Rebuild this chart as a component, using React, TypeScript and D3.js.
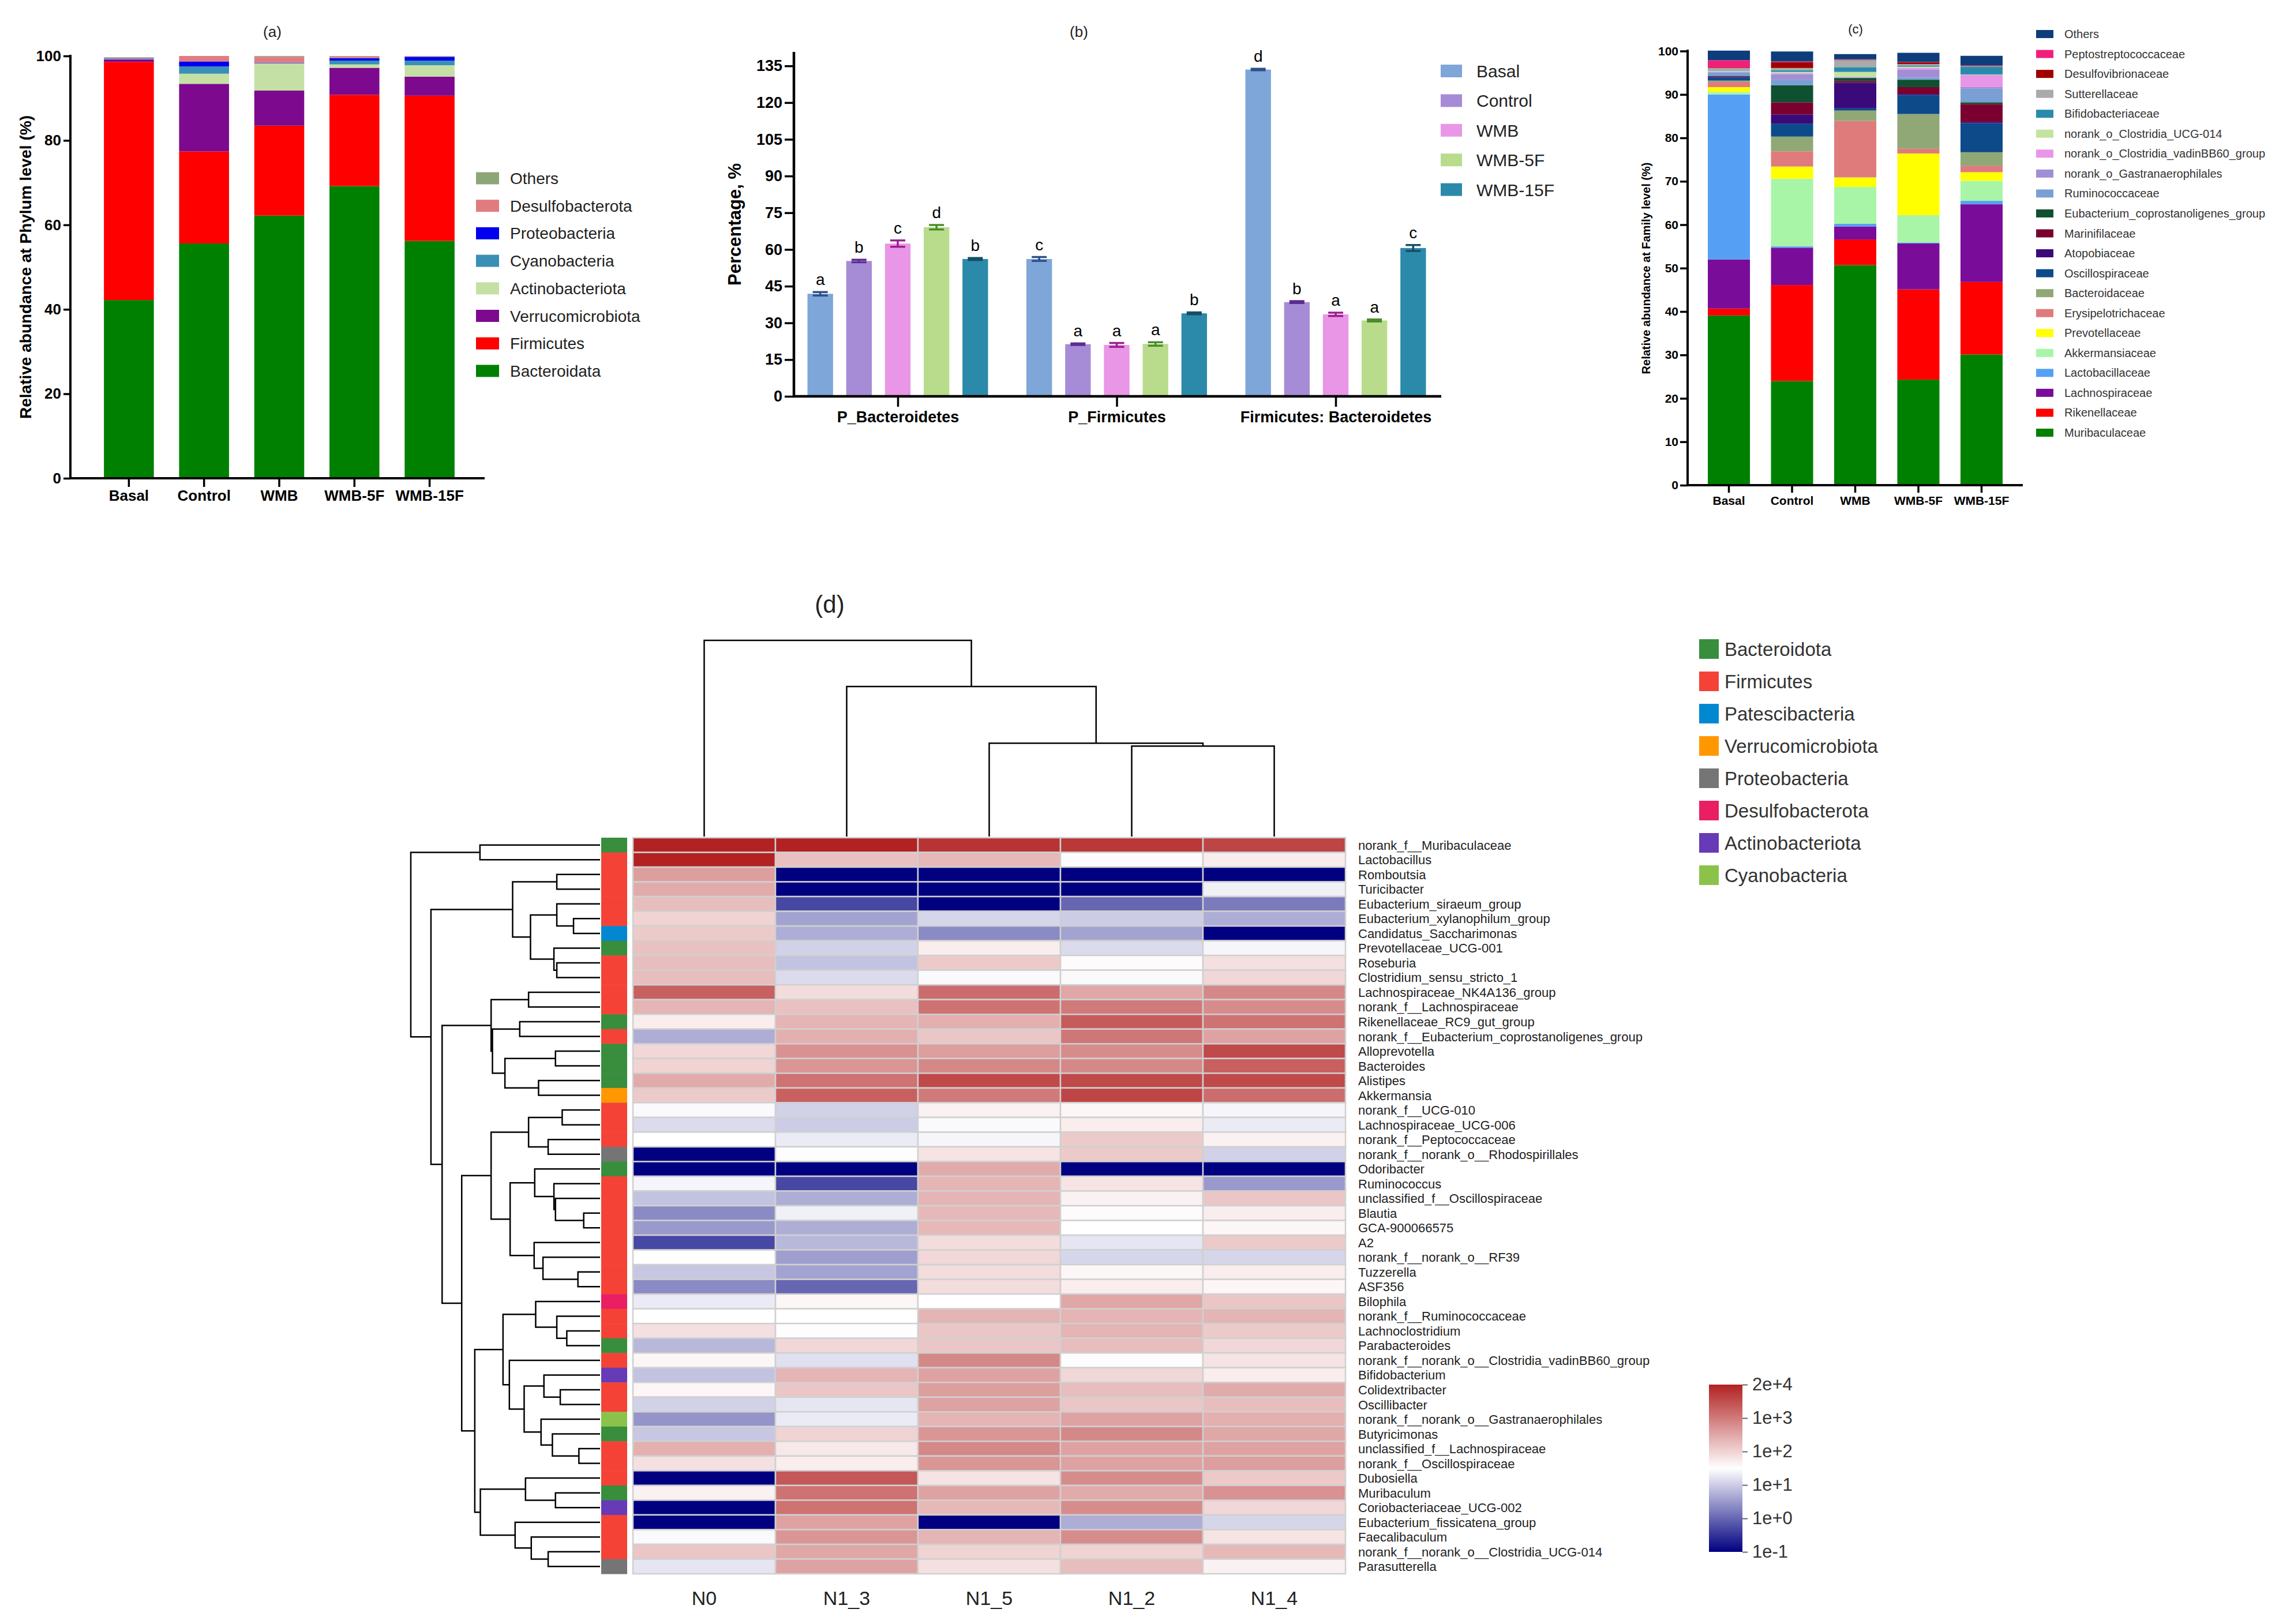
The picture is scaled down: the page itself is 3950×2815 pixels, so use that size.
import React, { useEffect, useRef } from 'react';
import * as d3 from 'd3';

const W = 3950;
const H = 2815;
const FONT = '"Liberation Sans", Arial, sans-serif';

// ---------- (a) relative abundance at phylum level ----------
const groups = ['Basal', 'Control', 'WMB', 'WMB-5F', 'WMB-15F'];
const bacteroidata = [42.2, 55.6, 62.2, 69.2, 56.2];
const firmicutes = [56.4, 21.8, 21.3, 21.6, 34.4];
const verrucomicrobiota = [0.6, 16.0, 8.3, 6.4, 4.5];
const actinobacteriota = [0.1, 2.4, 6.4, 0.8, 2.7];
const cyanobacteria = [0.1, 1.7, 0.1, 0.9, 1.1];
const proteobacteria = [0.1, 1.2, 0.1, 0.6, 0.9];
const desulfobacterota = [0.1, 1.3, 1.4, 0.4, 0.1];
const othersPhylum = [0.1, 0.0, 0.2, 0.1, 0.1];

const phyla = [
  { name: 'Bacteroidata', color: '#008000', values: bacteroidata },
  { name: 'Firmicutes', color: '#ff0000', values: firmicutes },
  { name: 'Verrucomicrobiota', color: '#7d0a8e', values: verrucomicrobiota },
  { name: 'Actinobacteriota', color: '#c5e0a5', values: actinobacteriota },
  { name: 'Cyanobacteria', color: '#3a8fb7', values: cyanobacteria },
  { name: 'Proteobacteria', color: '#0000ee', values: proteobacteria },
  { name: 'Desulfobacterota', color: '#e07c80', values: desulfobacterota },
  { name: 'Others', color: '#8da677', values: othersPhylum },
];

// ---------- (b) Bacteroidetes / Firmicutes ----------
const ratioGroups = ['P_Bacteroidetes', 'P_Firmicutes', 'Firmicutes: Bacteroidetes'];
const basalPct = [41.9, 56.1, 133.5];
const controlPct = [55.3, 21.3, 38.5];
const wmbPct = [62.4, 21.0, 33.5];
const wmb5fPct = [69.1, 21.4, 31.0];
const wmb15fPct = [56.1, 33.9, 60.6];
const basalErr = [0.7, 0.8, 0.3];
const controlErr = [0.5, 0.3, 0.4];
const wmbErr = [1.3, 0.8, 0.7];
const wmb5fErr = [0.9, 0.7, 0.4];
const wmb15fErr = [0.4, 0.4, 1.2];
const basalSig = ['a', 'c', 'd'];
const controlSig = ['b', 'a', 'b'];
const wmbSig = ['c', 'a', 'a'];
const wmb5fSig = ['d', 'a', 'a'];
const wmb15fSig = ['b', 'b', 'c'];

const treatments = [
  { name: 'Basal', fill: '#7ea6d8', dark: '#2d4f8a', values: basalPct, err: basalErr, sig: basalSig },
  { name: 'Control', fill: '#a68cd6', dark: '#5b2c91', values: controlPct, err: controlErr, sig: controlSig },
  { name: 'WMB', fill: '#e996e6', dark: '#9c1f8f', values: wmbPct, err: wmbErr, sig: wmbSig },
  { name: 'WMB-5F', fill: '#b9dc8c', dark: '#4b8d2a', values: wmb5fPct, err: wmb5fErr, sig: wmb5fSig },
  { name: 'WMB-15F', fill: '#2b8aaa', dark: '#174d66', values: wmb15fPct, err: wmb15fErr, sig: wmb15fSig },
];

// ---------- (c) relative abundance at family level (bottom -> top) ----------
const families = [
  { name: 'Muribaculaceae', color: '#008000', values: [39.1, 24.0, 50.7, 24.3, 30.1] },
  { name: 'Rikenellaceae', color: '#ff0000', values: [1.6, 22.1, 5.9, 20.8, 16.7] },
  { name: 'Lachnospiraceae', color: '#7a0c9a', values: [11.3, 8.6, 3.0, 10.6, 17.9] },
  { name: 'Lactobacillaceae', color: '#55a0f5', values: [38.0, 0.3, 0.6, 0.2, 0.8] },
  { name: 'Akkermansiaceae', color: '#a8f5a8', values: [0.6, 15.6, 8.5, 6.3, 4.6] },
  { name: 'Prevotellaceae', color: '#ffff00', values: [1.1, 2.8, 2.2, 14.2, 2.0] },
  { name: 'Erysipelotrichaceae', color: '#e07b7b', values: [1.2, 3.5, 13.0, 1.1, 1.5] },
  { name: 'Bacteroidaceae', color: '#8fa876', values: [0.3, 3.4, 2.4, 8.0, 3.1] },
  { name: 'Oscillospiraceae', color: '#0d4a8a', values: [0.7, 3.0, 0.5, 4.4, 6.7] },
  { name: 'Atopobiaceae', color: '#3a0a7a', values: [0.2, 2.1, 5.9, 0.2, 0.3] },
  { name: 'Marinifilaceae', color: '#7a0030', values: [0.1, 2.8, 0.4, 1.6, 4.1] },
  { name: 'Eubacterium_coprostanoligenes_group', color: '#0f5030', values: [0.1, 3.9, 0.7, 1.7, 0.4] },
  { name: 'Ruminococcaceae', color: '#7a9fd4', values: [0.8, 1.3, 0.1, 0.5, 3.2] },
  { name: 'norank_o_Gastranaerophilales', color: '#a08fd4', values: [0.1, 1.3, 0.1, 1.8, 0.3] },
  { name: 'norank_o_Clostridia_vadinBB60_group', color: '#e896e8', values: [0.1, 0.2, 0.1, 0.4, 2.8] },
  { name: 'norank_o_Clostridia_UCG-014', color: '#c4e3a0', values: [0.1, 0.3, 1.1, 0.3, 0.1] },
  { name: 'Bifidobacteriaceae', color: '#2a8aac', values: [0.1, 0.4, 1.1, 0.3, 1.8] },
  { name: 'Sutterellaceae', color: '#aaaaaa', values: [0.6, 0.5, 1.6, 0.3, 0.1] },
  { name: 'Desulfovibrionaceae', color: '#a00000', values: [0.1, 1.3, 0.1, 0.4, 0.1] },
  { name: 'Peptostreptococcaceae', color: '#f0207a', values: [1.7, 0.2, 0.1, 0.1, 0.1] },
  { name: 'Others', color: '#0d3d7a', values: [2.2, 2.3, 1.2, 2.1, 2.2] },
];

// ---------- (d) heatmap ----------
const samples = ['N0', 'N1_3', 'N1_5', 'N1_2', 'N1_4'];
const genera = [
  'norank_f__Muribaculaceae', 'Lactobacillus', 'Romboutsia', 'Turicibacter', 'Eubacterium_siraeum_group',
  'Eubacterium_xylanophilum_group', 'Candidatus_Saccharimonas', 'Prevotellaceae_UCG-001', 'Roseburia', 'Clostridium_sensu_stricto_1',
  'Lachnospiraceae_NK4A136_group', 'norank_f__Lachnospiraceae', 'Rikenellaceae_RC9_gut_group', 'norank_f__Eubacterium_coprostanoligenes_group', 'Alloprevotella',
  'Bacteroides', 'Alistipes', 'Akkermansia', 'norank_f__UCG-010', 'Lachnospiraceae_UCG-006',
  'norank_f__Peptococcaceae', 'norank_f__norank_o__Rhodospirillales', 'Odoribacter', 'Ruminococcus', 'unclassified_f__Oscillospiraceae',
  'Blautia', 'GCA-900066575', 'A2', 'norank_f__norank_o__RF39', 'Tuzzerella',
  'ASF356', 'Bilophila', 'norank_f__Ruminococcaceae', 'Lachnoclostridium', 'Parabacteroides',
  'norank_f__norank_o__Clostridia_vadinBB60_group', 'Bifidobacterium', 'Colidextribacter', 'Oscillibacter', 'norank_f__norank_o__Gastranaerophilales',
  'Butyricimonas', 'unclassified_f__Lachnospiraceae', 'norank_f__Oscillospiraceae', 'Dubosiella', 'Muribaculum',
  'Coriobacteriaceae_UCG-002', 'Eubacterium_fissicatena_group', 'Faecalibaculum', 'norank_f__norank_o__Clostridia_UCG-014', 'Parasutterella',
];

// phylum of every genus row
const Bd = 'Bacteroidota', Fi = 'Firmicutes', Pa = 'Patescibacteria', Ve = 'Verrucomicrobiota';
const Pr = 'Proteobacteria', De = 'Desulfobacterota', Ac = 'Actinobacteriota', Cy = 'Cyanobacteria';
const genusPhylum = [
  Bd, Fi, Fi, Fi, Fi, Fi, Pa, Bd, Fi, Fi,
  Fi, Fi, Bd, Fi, Bd, Bd, Bd, Ve, Fi, Fi,
  Fi, Pr, Bd, Fi, Fi, Fi, Fi, Fi, Fi, Fi,
  Fi, De, Fi, Fi, Bd, Fi, Ac, Fi, Fi, Cy,
  Bd, Fi, Fi, Fi, Bd, Ac, Fi, Fi, Fi, Pr,
];

const phylumLegend = [
  { name: Bd, color: '#388e3c' },
  { name: Fi, color: '#f44336' },
  { name: Pa, color: '#0288d1' },
  { name: Ve, color: '#ff9800' },
  { name: Pr, color: '#757575' },
  { name: De, color: '#e91e63' },
  { name: Ac, color: '#673ab7' },
  { name: Cy, color: '#8bc34a' },
];

// log10 abundance per sample, one value per genus row
const n0 = [4.3, 4.3, 2.6, 2.45, 2.25, 2.0, 2.1, 2.2, 2.25, 2.25, 3.39, 2.35, 1.7, 0.7, 1.95, 2.0, 2.45, 2.1, 1.45, 1.15, 1.5, -1, -1, 1.4, 0.9, 0.35, 0.5, -0.3, 1.5, 0.95, 0.35, 1.3, 1.5, 1.85, 0.8, 1.6, 0.9, 1.6, 1.05, 0.45, 0.95, 2.4, 1.85, -1, 1.65, -1, -1, 1.45, 2.15, 1.25];
const n1_3 = [4.3, 2.2, -1, -1, -0.3, 0.6, 0.7, 1.05, 0.9, 1.15, 1.9, 2.2, 2.35, 2.4, 2.75, 2.7, 3.13, 3.39, 1.05, 1.0, 1.3, 1.52, -1, -0.3, 0.7, 1.35, 0.7, 0.8, 0.55, 0.6, 0.0, 1.6, 1.5, 1.52, 1.95, 1.2, 2.35, 2.15, 1.25, 1.3, 2.0, 1.75, 1.7, 3.52, 3.13, 3.13, 2.55, 2.7, 2.5, 2.55];
const n1_5 = [4.04, 2.3, -1, -1, -1, 1.1, 0.35, 1.7, 2.1, 1.45, 3.2, 3.13, 2.4, 2.15, 2.6, 2.85, 3.72, 3.0, 1.65, 1.45, 1.4, 1.8, 2.45, 2.35, 2.35, 2.3, 2.3, 1.9, 1.95, 1.9, 1.9, 1.5, 2.35, 2.15, 2.15, 2.85, 2.55, 2.6, 2.55, 2.35, 2.7, 2.85, 2.7, 1.8, 2.55, 2.3, -1, 2.35, 2.0, 1.85];
const n1_2 = [3.98, 1.55, -1, -1, 0.0, 1.0, 0.6, 1.15, 1.55, 1.45, 2.5, 3.0, 3.46, 3.07, 2.8, 2.85, 3.72, 3.78, 1.6, 1.7, 2.1, 2.1, -1, 1.8, 1.65, 1.55, 1.5, 1.25, 1.1, 1.6, 1.7, 2.5, 2.35, 2.35, 2.25, 1.47, 1.95, 2.25, 2.15, 2.55, 2.85, 2.55, 2.55, 2.8, 2.45, 2.8, 0.7, 2.8, 2.0, 2.25];
const n1_4 = [3.78, 1.7, -1, 1.35, 0.2, 0.7, -1, 1.4, 1.85, 1.95, 2.85, 2.8, 3.13, 2.55, 3.72, 3.39, 3.72, 3.2, 1.4, 1.3, 1.65, 1.05, -1, 0.5, 2.15, 1.7, 1.6, 2.1, 1.1, 1.7, 1.6, 2.15, 2.35, 2.1, 1.95, 1.8, 1.7, 2.45, 2.25, 2.4, 2.5, 2.55, 2.6, 2.1, 2.75, 1.95, 1.1, 1.8, 2.3, 1.65];
const sampleValues = [n0, n1_3, n1_5, n1_2, n1_4];

const colorbarTicks = [-1, 0, 1, 2, 3, Math.log10(2e4)];
const colorbarLabels = ['1e-1', '1e+0', '1e+1', '1e+2', '1e+3', '2e+4'];

// dendrograms: [merge height, left, right], leaves are row / column indices
type Tree = number | [number, Tree, Tree];
const rowTree: Tree = [98.5,
  [62.5, 0, 1],
  [88,
    [45.5,
      [22.5, 2, 3],
      [36.2, [22.5, 4, [13.8, 5, 6]], [24, 7, [22.5, 8, 9]]]],
    [82.2,
      [56.7,
        [37.2, 10, 11],
        [56, [41.8, 12, 13], [49.5, [23.2, 14, 15], [32, 16, 17]]]],
      [72,
        [56.7,
          [37.2, [19.7, 18, 19], [27, 20, 21]],
          [46.8,
            [34, 22, [24, 23, [23.2, 24, [8.5, 25, 26]]]],
            [34.3, 27, [29.7, 28, [11.5, 29, 30]]]]],
        [65.2,
          [50.5,
            [33.5, 31, [22.5, 32, [17.3, 33, 34]]],
            [47.2, 35, [39.5, [29.2, 36, [20.7, 37, 38]], [30.7, 39, [24.8, 40, [11, 41, 42]]]]]],
          [62.3,
            [38.8, 43, [23.2, 44, 45]],
            [44.2, 46, [35.8, 47, [27, 48, 49]]]]]]]]];
const colTree: Tree = [10.2, 0, [7.8, 1, [4.85, 2, [4.7, 3, 4]]]];

function txt(g: any, x: number, y: number, s: string, size: number, opts: any = {}) {
  return g.append('text')
    .attr('x', x)
    .attr('y', y)
    .attr('font-family', FONT)
    .attr('font-size', size)
    .attr('font-weight', opts.bold ? 'bold' : 'normal')
    .attr('text-anchor', opts.anchor || 'start')
    .attr('fill', opts.fill || '#000')
    .text(s);
}

function styleAxis(a: any, size: number, width: number) {
  a.select('.domain').remove();
  a.selectAll('.tick line').attr('stroke', '#000').attr('stroke-width', width);
  a.selectAll('.tick text')
    .attr('fill', '#000')
    .attr('font-size', size)
    .attr('font-family', FONT)
    .attr('font-weight', 'bold');
}

function drawPhylum(svg: any) {
  const g = svg.append('g');
  const x = d3.scaleBand().domain(groups).range([128, 840]).paddingInner(0.336).paddingOuter(0.4);
  const y = d3.scaleLinear().domain([0, 100]).range([829, 97]);

  const rows = groups.map((grp, i) => {
    const o: any = { group: grp };
    phyla.forEach((p) => (o[p.name] = p.values[i]));
    return o;
  });
  const stacked = d3.stack<any>().keys(phyla.map((p) => p.name))(rows);

  g.selectAll('.layer')
    .data(stacked)
    .join('g')
    .attr('fill', (_d: any, k: number) => phyla[k].color)
    .selectAll('rect')
    .data((d: any) => d)
    .join('rect')
    .attr('x', (d: any) => x(d.data.group))
    .attr('y', (d: any) => y(d[1]))
    .attr('width', x.bandwidth())
    .attr('height', (d: any) => y(d[0]) - y(d[1]));

  const ya = g.append('g').attr('transform', 'translate(122,0)')
    .call(d3.axisLeft(y).tickValues([0, 20, 40, 60, 80, 100]).tickSize(12).tickPadding(4));
  styleAxis(ya, 26, 3.5);
  const xa = g.append('g').attr('transform', 'translate(0,829)')
    .call(d3.axisBottom(x).tickSize(15).tickPadding(6));
  styleAxis(xa, 26, 3.5);
  g.append('path').attr('d', 'M122,95V829H840').attr('fill', 'none').attr('stroke', '#000').attr('stroke-width', 4);

  txt(g, 0, 0, 'Relative abundance at Phylum level (%)', 28, { bold: true, anchor: 'middle' })
    .attr('transform', 'translate(54,463) rotate(-90)');
  txt(g, 472, 64, '(a)', 26, { anchor: 'middle', fill: '#222' });

  const leg = [...phyla].reverse();
  leg.forEach((p, i) => {
    const cy = 309 + i * 47.7;
    g.append('rect').attr('x', 825).attr('y', cy - 10.5).attr('width', 40).attr('height', 21).attr('fill', p.color);
    txt(g, 884, cy + 10, p.name, 28, { fill: '#222' });
  });
}

function drawRatio(svg: any) {
  const g = svg.append('g');
  const x0 = d3.scalePoint().domain(ratioGroups).range([1556, 2315]);
  const x1 = d3.scaleBand().domain(treatments.map((t) => t.name)).range([-156.5, 156.5]).paddingInner(0.34);
  const y = d3.scaleLinear().domain([0, 140]).range([687, 93]);

  treatments.forEach((t) => {
    ratioGroups.forEach((grp, i) => {
      const bx = (x0(grp) as number) + (x1(t.name) as number);
      const cx = bx + x1.bandwidth() / 2;
      const v = t.values[i];
      const e = t.err[i];
      g.append('rect').attr('x', bx).attr('y', y(v)).attr('width', x1.bandwidth()).attr('height', y(0) - y(v)).attr('fill', t.fill);
      const eb = d3.path();
      eb.moveTo(cx, y(v - e)); eb.lineTo(cx, y(v + e));
      eb.moveTo(cx - 13, y(v + e)); eb.lineTo(cx + 13, y(v + e));
      eb.moveTo(cx - 13, y(v - e)); eb.lineTo(cx + 13, y(v - e));
      g.append('path').attr('d', eb.toString()).attr('stroke', t.dark).attr('stroke-width', 3.5).attr('fill', 'none');
      txt(g, cx, y(v + e) - 12, t.sig[i], 28, { anchor: 'middle' });
    });
  });

  const ya = g.append('g').attr('transform', 'translate(1376,0)')
    .call(d3.axisLeft(y).tickValues(d3.range(0, 136, 15)).tickSize(16).tickPadding(4));
  styleAxis(ya, 27, 3.5);
  const xa = g.append('g').attr('transform', 'translate(0,687)')
    .call(d3.axisBottom(x0).tickSize(18).tickPadding(8));
  styleAxis(xa, 27, 3.5);
  g.append('path').attr('d', 'M1376,90V687H2498').attr('fill', 'none').attr('stroke', '#000').attr('stroke-width', 4.5);

  txt(g, 0, 0, 'Percentage, %', 31, { bold: true, anchor: 'middle' })
    .attr('transform', 'translate(1284,389) rotate(-90)');
  txt(g, 1870, 64, '(b)', 26, { anchor: 'middle', fill: '#222' });

  treatments.forEach((t, i) => {
    const cy = 123 + i * 51.4;
    g.append('rect').attr('x', 2497).attr('y', cy - 11).attr('width', 37).attr('height', 22).attr('fill', t.fill);
    txt(g, 2559, cy + 11, t.name, 30, { fill: '#222' });
  });
}

function drawFamily(svg: any) {
  const g = svg.append('g');
  const x = d3.scaleBand().domain(groups).range([2925, 3506]).paddingInner(0.333).paddingOuter(0.32);
  const y = d3.scaleLinear().domain([0, 100]).range([841, 88.5]);

  const rows = groups.map((grp, i) => {
    const o: any = { group: grp };
    families.forEach((f) => (o[f.name] = f.values[i]));
    return o;
  });
  const stacked = d3.stack<any>().keys(families.map((f) => f.name))(rows);

  g.selectAll('.layer')
    .data(stacked)
    .join('g')
    .attr('fill', (_d: any, k: number) => families[k].color)
    .selectAll('rect')
    .data((d: any) => d)
    .join('rect')
    .attr('x', (d: any) => x(d.data.group))
    .attr('y', (d: any) => y(d[1]))
    .attr('width', x.bandwidth())
    .attr('height', (d: any) => y(d[0]) - y(d[1]));

  const ya = g.append('g').attr('transform', 'translate(2925,0)')
    .call(d3.axisLeft(y).tickValues(d3.range(0, 101, 10)).tickSize(13).tickPadding(3));
  styleAxis(ya, 21, 3.5);
  const xa = g.append('g').attr('transform', 'translate(0,841)')
    .call(d3.axisBottom(x).tickSize(13).tickPadding(6));
  styleAxis(xa, 21, 3.5);
  g.append('path').attr('d', 'M2925,86V841H3506').attr('fill', 'none').attr('stroke', '#000').attr('stroke-width', 4);

  txt(g, 0, 0, 'Relative abundance at Family level (%)', 20, { bold: true, anchor: 'middle' })
    .attr('transform', 'translate(2860,465) rotate(-90)');
  txt(g, 3216, 58, '(c)', 22, { anchor: 'middle', fill: '#222' });

  const leg = [...families].reverse();
  leg.forEach((f, i) => {
    const cy = 59 + i * 34.55;
    g.append('rect').attr('x', 3529).attr('y', cy - 7).attr('width', 30).attr('height', 14).attr('fill', f.color);
    txt(g, 3578, cy + 7, f.name, 20, { fill: '#333' });
  });
}

function dendrogram(g: any, tree: Tree, leafPos: (i: number) => number, hPos: (h: number) => number, horizontal: boolean) {
  const root: any = d3.hierarchy<any>(tree, (d: any) => (Array.isArray(d) ? d.slice(1) : null));
  root.eachAfter((n: any) => {
    if (!n.children) {
      n.pos = leafPos(n.data);
      n.hv = 0;
    } else {
      n.pos = (n.children[0].pos + n.children[n.children.length - 1].pos) / 2;
      n.hv = n.data[0];
    }
  });
  const p = d3.path();
  root.each((n: any) => {
    if (!n.children) return;
    const [a, b] = n.children;
    if (horizontal) {
      p.moveTo(hPos(a.hv), a.pos); p.lineTo(hPos(n.hv), a.pos);
      p.lineTo(hPos(n.hv), b.pos); p.lineTo(hPos(b.hv), b.pos);
    } else {
      p.moveTo(a.pos, hPos(a.hv)); p.lineTo(a.pos, hPos(n.hv));
      p.lineTo(b.pos, hPos(n.hv)); p.lineTo(b.pos, hPos(b.hv));
    }
  });
  g.append('path').attr('d', p.toString()).attr('fill', 'none').attr('stroke', '#000').attr('stroke-width', 2.5);
}

function drawHeatmap(svg: any) {
  const g = svg.append('g');
  const x = d3.scaleBand().domain(samples).range([1097, 2332]);
  const y = d3.scaleBand().domain(genera).range([1452, 2728]);
  const level = d3.scaleLinear().domain(colorbarTicks).range([0, 1, 2, 3, 4, 5]);
  const color = d3.scaleLinear<string>().domain([0, 2.5, 5]).range(['#000080', '#ffffff', '#b22222']);
  const phylumColor = d3.scaleOrdinal<string, string>().domain(phylumLegend.map((p) => p.name)).range(phylumLegend.map((p) => p.color));

  samples.forEach((s, j) => {
    genera.forEach((gn, i) => {
      g.append('rect')
        .attr('x', x(s))
        .attr('y', y(gn))
        .attr('width', x.bandwidth())
        .attr('height', y.bandwidth())
        .attr('fill', color(level(sampleValues[j][i])))
        .attr('stroke', '#d0d0d0')
        .attr('stroke-width', 2.5);
    });
  });

  // phylum annotation strip
  genera.forEach((gn, i) => {
    g.append('rect')
      .attr('x', 1042).attr('y', y(gn)).attr('width', 45).attr('height', y.bandwidth() + 0.5)
      .attr('fill', phylumColor(genusPhylum[i]));
  });

  // row and column labels
  genera.forEach((gn) => {
    txt(g, 2354, (y(gn) as number) + y.bandwidth() / 2 + 8, gn, 22, { fill: '#222' });
  });
  samples.forEach((s) => {
    txt(g, (x(s) as number) + x.bandwidth() / 2, 2782, s, 34, { anchor: 'middle', fill: '#222' });
  });

  // dendrograms
  const rowH = d3.scaleLinear().domain([0, 98.5]).range([1040, 712]);
  dendrogram(g, rowTree, (i) => (y(genera[i]) as number) + y.bandwidth() / 2, rowH, true);
  const colH = d3.scaleLinear().domain([0, 10.2]).range([1450, 1110]);
  dendrogram(g, colTree, (i) => (x(samples[i]) as number) + x.bandwidth() / 2, colH, false);

  txt(g, 1438, 1062, '(d)', 42, { anchor: 'middle', fill: '#222' });

  // phylum legend
  phylumLegend.forEach((p, i) => {
    const top = 1108 + i * 56;
    g.append('rect').attr('x', 2945).attr('y', top).attr('width', 34).attr('height', 34).attr('fill', p.color);
    txt(g, 2989, top + 29, p.name, 33, { fill: '#333' });
  });

  // colour bar
  const defs = svg.append('defs');
  const grad = defs.append('linearGradient').attr('id', 'heatGrad').attr('x1', 0).attr('y1', 1).attr('x2', 0).attr('y2', 0);
  d3.range(0, 5.01, 0.25).forEach((t) => {
    grad.append('stop').attr('offset', `${(t / 5) * 100}%`).attr('stop-color', color(t));
  });
  const barY = d3.scaleLinear().domain(colorbarTicks).range(d3.range(6).map((k) => 2690 - k * 58));
  g.append('rect').attr('x', 2962).attr('y', 2400).attr('width', 58).attr('height', 290).attr('fill', 'url(#heatGrad)');
  const ca = g.append('g').attr('transform', 'translate(3020,0)')
    .call(d3.axisRight(barY).tickValues(colorbarTicks).tickSize(9).tickPadding(8).tickFormat((_d: any, k: number) => colorbarLabels[k]));
  ca.select('.domain').remove();
  ca.selectAll('.tick line').attr('stroke', '#666').attr('stroke-width', 2);
  ca.selectAll('.tick text').attr('fill', '#333').attr('font-size', 31).attr('font-family', FONT);
}

const App: React.FC = () => {
  const ref = useRef<SVGSVGElement>(null);

  useEffect(() => {
    if (!ref.current) return;
    document.body.style.margin = '0';
    const svg = d3.select(ref.current);
    svg.selectAll('*').remove();
    svg.append('rect').attr('width', W).attr('height', H).attr('fill', '#fff');
    drawPhylum(svg);
    drawRatio(svg);
    drawFamily(svg);
    drawHeatmap(svg);
  }, []);

  return <svg ref={ref} width={W} height={H} style={{ display: 'block' }} />;
};

export default App;
